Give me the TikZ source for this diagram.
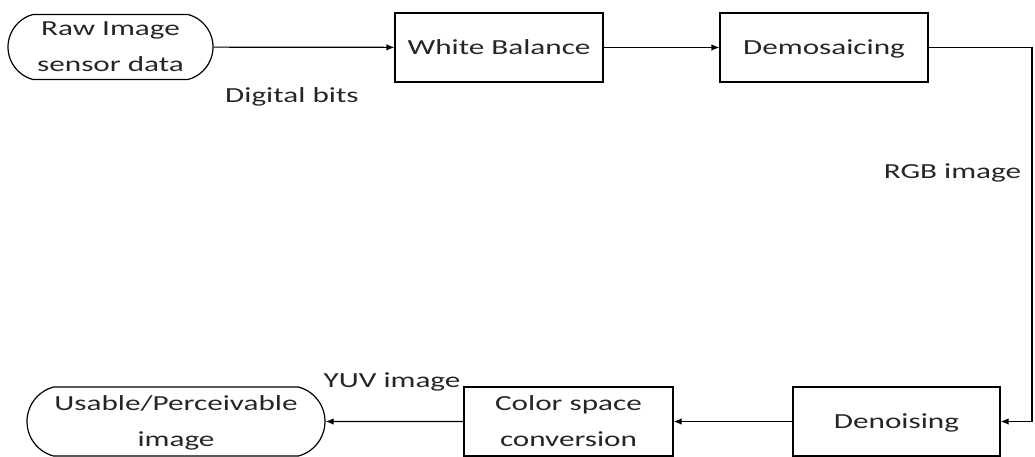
\documentclass[tikz,border=0pt]{standalone}
\usepackage{fontspec}
\setmainfont[FakeStretch=1.45]{Carlito}
\usetikzlibrary{arrows.meta,shapes.misc}

\begin{document}
\begin{tikzpicture}[x=1pt,y=-1pt,
  every node/.style={font=\fontsize{21.5}{36}\selectfont, text=black!85, align=center, inner sep=0pt},
  stage/.style={draw, line width=1.2pt, rectangle, minimum height=69pt, text depth=0pt},
  terminal/.style={draw, line width=1.2pt, rounded rectangle, rounded rectangle arc length=150, text depth=0pt},
  flow/.style={line width=1.2pt, -{Latex[length=8pt,width=6.5pt]}},
  lbl/.style={font=\fontsize{21.5}{25}\selectfont}
]
\useasboundingbox (0,0) rectangle (1035,457);

% top row
\node[terminal, minimum width=205pt, minimum height=65pt] (raw) at (110.5,47) {Raw Image\\sensor data};
\node[stage, minimum width=208pt] (wb) at (499,47.5) {White Balance};
\node[stage, minimum width=208pt] (demo) at (824,47.5) {Demosaicing};

% bottom row
\node[stage, minimum width=207pt] (deno) at (896.5,421.5) {Denoising};
\node[stage, minimum width=209pt] (csc) at (568.5,421.5) {Color space\\conversion};
\node[terminal, minimum width=298pt, minimum height=69pt] (out) at (176,421.5) {Usable/Perceivable\\image};

% return path on the right
\coordinate (rc) at (1032,200);

% connectors
\draw[flow] (raw) -- (wb);
\draw[flow] (wb) -- (demo);
\draw[flow] (demo.east) -| (rc) |- (deno.east);
\draw[flow] (deno) -- (csc);
\draw[flow] (csc) -- (out);

% data labels
\node[lbl] (l1) at (292,97) {Digital bits};
\node[lbl] (l2) at (952.5,173) {RGB image};
\node[lbl] (l3) at (392,382) {YUV image};
\end{tikzpicture}
\end{document}
